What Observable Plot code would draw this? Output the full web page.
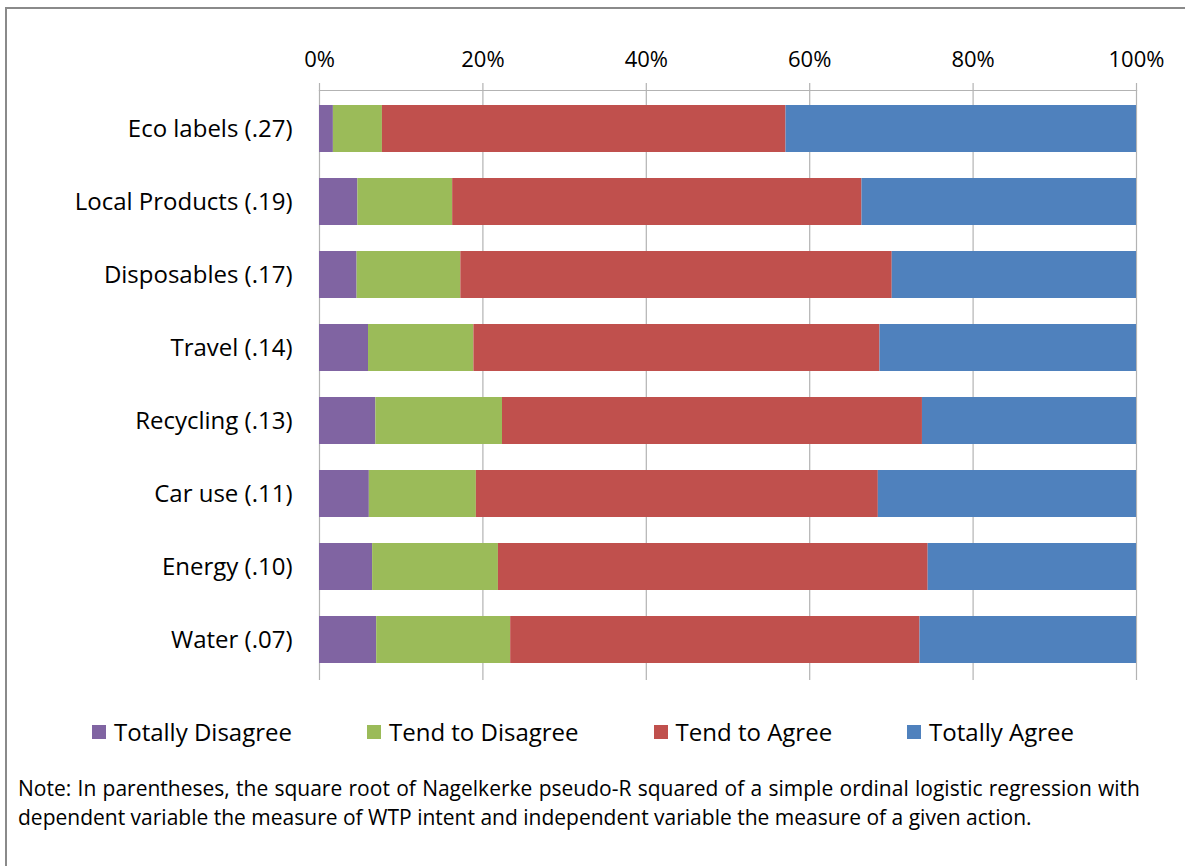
<!DOCTYPE html>
<html>
<head>
<meta charset="utf-8">
<script src="https://cdn.jsdelivr.net/npm/d3@7"></script>
<script src="https://cdn.jsdelivr.net/npm/@observablehq/plot@0.6"></script>
<style>
  html, body { margin: 0; padding: 0; background: #fff; overflow: hidden; }
  body { width: 1185px; height: 866px; position: relative; font-family: "Open Sans", sans-serif; color: #000; }
  #frame { position: absolute; left: 5px; top: 7px; width: 2000px; height: 2000px; border: 2px solid #8a8a8a; box-sizing: border-box; }
  #chart { position: absolute; left: 0; top: 0; }
  #legend { position: absolute; left: 92px; top: 716px; display: flex; gap: 75px; font-size: 24px; line-height: 32px; white-space: nowrap; }
  #legend .item { display: flex; align-items: center; }
  #legend .sw { width: 14px; height: 14px; margin-right: 8px; }
  #note { position: absolute; left: 18px; top: 774px; width: 1122px; font-size: 21px; line-height: 29px; }
  #note .l1 { text-align: justify; text-align-last: justify; }
</style>
</head>
<body>
<div id="frame"></div>
<div id="chart"></div>
<div id="legend"></div>
<div id="note"><div class="l1">Note: In parentheses, the square root of Nagelkerke pseudo-R squared of a simple ordinal logistic regression with</div><div>dependent variable the measure of WTP intent and independent variable the measure of a given action.</div></div>
<script>
const categories = ["Eco labels (.27)", "Local Products (.19)", "Disposables (.17)", "Travel (.14)", "Recycling (.13)", "Car use (.11)", "Energy (.10)", "Water (.07)"];
const series = ["Totally Disagree", "Tend to Disagree", "Tend to Agree", "Totally Agree"];
const colors = ["#8064A2", "#9BBB59", "#C0504D", "#4F81BD"];
const totallyDisagree = [1.7, 4.7, 4.6, 6.0, 6.9, 6.1, 6.5, 7.0];
const tendToDisagree  = [6.0, 11.6, 12.7, 12.9, 15.5, 13.1, 15.4, 16.4];
const tendToAgree     = [49.4, 50.1, 52.8, 49.7, 51.4, 49.2, 52.6, 50.1];
const totallyAgree    = [42.9, 33.6, 29.9, 31.4, 26.2, 31.6, 25.5, 26.5];
const xTicks = [0, 20, 40, 60, 80, 100];

const valuesBySeries = [totallyDisagree, tendToDisagree, tendToAgree, totallyAgree];
const data = [];
categories.forEach((c, i) => {
  series.forEach((s, j) => data.push({category: c, series: s, value: valuesBySeries[j][i]}));
});

const chart = Plot.plot({
  width: 1185,
  height: 700,
  marginLeft: 319,
  marginRight: 49,
  marginTop: 90,
  marginBottom: 22,
  style: {fontFamily: "Open Sans, sans-serif", background: "transparent", color: "#000"},
  x: {domain: [0, 100]},
  y: {domain: categories, paddingInner: 0.36, paddingOuter: 0.18},
  color: {domain: series, range: colors},
  marks: [
    Plot.ruleX(xTicks, {stroke: "#b3b3b3", strokeWidth: 1.2, insetBottom: -2}),
    Plot.frame({anchor: "top", stroke: "#b3b3b3", strokeWidth: 1.2}),
    Plot.barX(data, Plot.stackX({y: "category", x: "value", fill: "series", z: "series", inset: 0})),
    Plot.axisX(xTicks, {anchor: "top", tickSize: 8, tickPadding: 16, stroke: "#b3b3b3", strokeWidth: 1.2, fontSize: 22, tickFormat: d => d + "%", label: null, fill: "#000"}),
    Plot.axisY({tickSize: 0, tickPadding: 27, fontSize: 24, label: null, fill: "#000"})
  ]
});
document.getElementById("chart").appendChild(chart);

const legend = document.getElementById("legend");
series.forEach((s, i) => {
  const item = document.createElement("div");
  item.className = "item";
  const sw = document.createElement("div");
  sw.className = "sw";
  sw.style.background = colors[i];
  const t = document.createElement("span");
  t.textContent = s;
  item.appendChild(sw);
  item.appendChild(t);
  legend.appendChild(item);
});
</script>
</body>
</html>
